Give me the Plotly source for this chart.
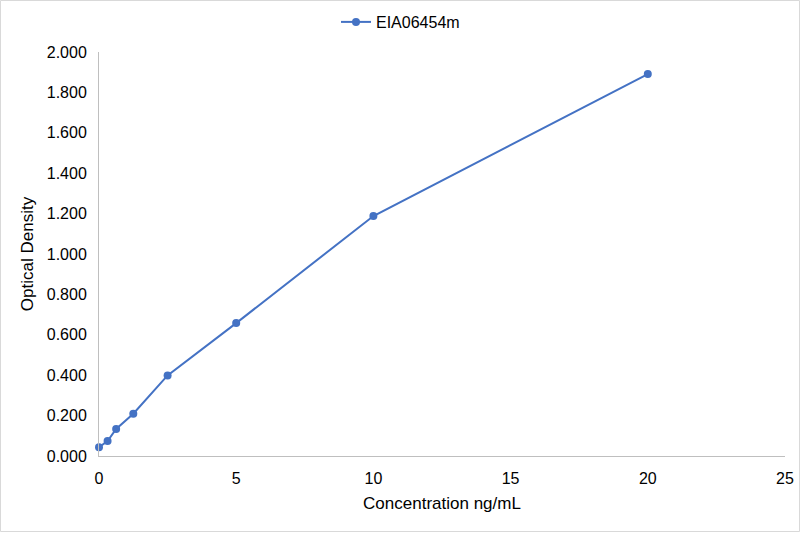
import plotly.graph_objects as go

# Standard curve values
CONC = [0, 0.3125, 0.625, 1.25, 2.5, 5, 10, 20]
OD = [0.043, 0.074, 0.134, 0.209, 0.399, 0.658, 1.188, 1.891]
SERIES_NAME = 'EIA06454m'

X_TICKS = [0, 5, 10, 15, 20, 25]
Y_TICKS = [0.0, 0.2, 0.4, 0.6, 0.8, 1.0, 1.2, 1.4, 1.6, 1.8, 2.0]

W, H = 801, 533
M = dict(l=99, r=16, t=52, b=77)

fig = go.Figure()

fig.add_trace(go.Scatter(
    x=CONC,
    y=OD,
    mode='lines+markers',
    name=SERIES_NAME,
    line=dict(color='#4472c4', width=2),
    marker=dict(color='#4472c4', size=8),
    cliponaxis=False
))

pw = W - M['l'] - M['r']
ph = H - M['t'] - M['b']

# outer chart border (Excel style)
fig.add_shape(
    type='rect', xref='paper', yref='paper',
    x0=-(M['l'] - 0.5) / pw, x1=1 + (M['r'] - 1.5) / pw,
    y0=-(M['b'] - 1.5) / ph, y1=1 + (M['t'] - 0.5) / ph,
    line=dict(color='#d9d9d9', width=1)
)

fig.update_layout(
    width=W, height=H,
    margin=M,
    paper_bgcolor='white',
    plot_bgcolor='white',
    font=dict(family='Liberation Sans, Arial', size=16, color='#000000'),
    showlegend=True,
    legend=dict(
        orientation='h',
        xref='container', yref='container',
        x=0.5, xanchor='center',
        y=1 - 22 / H, yanchor='middle',
        font=dict(size=16),
        bgcolor='rgba(0,0,0,0)'
    )
)

fig.update_xaxes(
    range=[0, 25],
    tickvals=X_TICKS,
    automargin=False,
    showgrid=False,
    zeroline=False,
    showline=True,
    linecolor='#bfbfbf',
    linewidth=1,
    ticks='',
    ticklabelstandoff=8,
    title=dict(text='Concentration ng/mL', standoff=10, font=dict(size=17))
)
fig.update_yaxes(
    range=[0, 2],
    tickvals=Y_TICKS,
    tickformat='.3f',
    automargin=False,
    showgrid=False,
    zeroline=False,
    showline=True,
    linecolor='#bfbfbf',
    linewidth=1,
    ticks='',
    ticklabelstandoff=8,
    title=dict(text='Optical Density', standoff=8, font=dict(size=17))
)

# drop the page margin so the figure fills the window exactly
fig.write_html(
    'out.html',
    config={'displayModeBar': False},
    post_script="document.body.style.margin='0';"
                "document.body.style.overflow='hidden';"
)
